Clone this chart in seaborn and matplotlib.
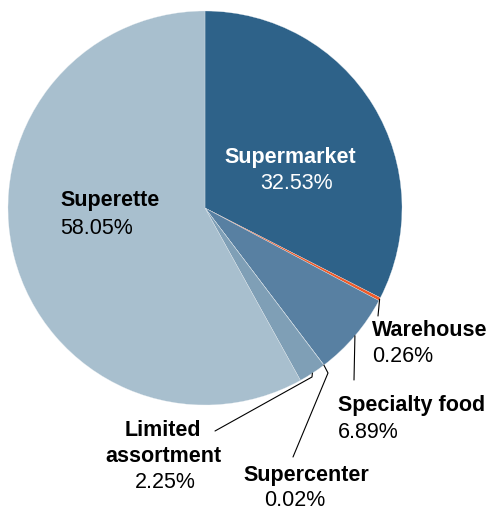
import numpy as np
import matplotlib.pyplot as plt
import seaborn as sns

sns.set_style('white')
plt.rcParams['font.family'] = ['Liberation Sans', 'DejaVu Sans']

# dados
categorias = ['Supermarket', 'Warehouse', 'Specialty food', 'Supercenter',
              'Limited assortment', 'Superette']
percentuais = [32.53, 0.26, 6.89, 0.02, 2.25, 58.05]
cores = ['#2e6289', '#f05a28', '#5880a2', '#6a8fab', '#7f9fb6', '#a8bfce']

fig = plt.figure(figsize=(4.89, 5.11), dpi=100)
ax = fig.add_axes([0, 0, 1, 1])

cx, cy, r = 205, 303, 197
ax.pie(percentuais, colors=cores, startangle=90, counterclock=False,
       center=(cx, cy), radius=r, frame=True,
       wedgeprops=dict(edgecolor='#e8eef2', linewidth=0.2))
ax.set_xlim(0, 489)
ax.set_ylim(0, 511)
ax.set_aspect('equal')
ax.axis('off')

# pontos na borda de cada fatia
cum = np.cumsum(percentuais) - np.array(percentuais) / 2
ang = np.deg2rad(90 - 3.6 * cum)
borda = {c: (cx + r * np.cos(a), cy + r * np.sin(a)) for c, a in zip(categorias, ang)}

def py(y):
    return 511 - y

def linha(cat, pts):
    x0, y0 = borda[cat]
    xs = [x0] + [p[0] for p in pts]
    ys = [y0] + [py(p[1]) for p in pts]
    ax.plot(xs, ys, color='black', lw=0.8)

linha('Warehouse', [(378, 316)])
linha('Specialty food', [(354, 380)])
linha('Supercenter', [(328, 373), (293, 457)])
linha('Limited assortment', [(312, 377), (215, 431)])

fs = 15.5
def txt(x, y, s, ha='center', bold=False, cor='black'):
    ax.text(x, py(y), s, ha=ha, va='center', fontsize=fs, color=cor,
            fontweight='bold' if bold else 'normal')

txt(290, 157, 'Supermarket', bold=True, cor='white')
txt(297, 183, '32.53%', cor='white')
txt(60, 200, 'Superette', ha='left', bold=True)
txt(60, 228, '58.05%', ha='left')
txt(372, 331, 'Warehouse', ha='left', bold=True)
txt(372, 357, '0.26%', ha='left')
txt(338, 406, 'Specialty food', ha='left', bold=True)
txt(338, 432, '6.89%', ha='left')
txt(306, 475, 'Supercenter', bold=True)
txt(295, 501, '0.02%')
txt(163, 430, 'Limited', bold=True)
txt(163, 456, 'assortment', bold=True)
txt(165, 483, '2.25%')

plt.savefig('out.png', dpi=100)
